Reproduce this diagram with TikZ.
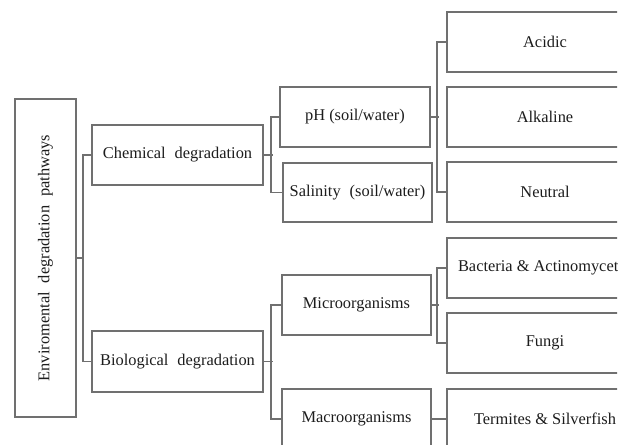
\documentclass[tikz,border=0pt]{standalone}
\usepackage{fontspec}
\setmainfont{Liberation Serif}
\definecolor{linegray}{RGB}{112,112,112}
\definecolor{txt}{RGB}{28,28,28}
\tikzset{
  box/.style={draw=linegray, line width=1.8pt, rectangle, inner sep=0pt,
    text=txt, font=\fontsize{16.4}{19}\selectfont, align=center},
  leaf/.style={box, minimum width=196pt, minimum height=60pt},
  mid/.style={box, minimum width=149pt, minimum height=60pt},
  lvl/.style={box, minimum width=171pt, minimum height=60pt},
  link/.style={draw=linegray, line width=1.8pt}
}
\newcommand{\wsp}{\hspace{0.55em}}
\begin{document}
\begin{tikzpicture}[x=1pt,y=-1pt]
\useasboundingbox (0,0) rectangle (631,444);
\begin{scope}
\clip (0,0) rectangle (617,444);
% root
\node[box, minimum width=61pt, minimum height=318pt] (root) at (45.5,258) {};
\node[text=txt, font=\fontsize{16.4}{19}\selectfont, rotate=90, inner sep=0pt] (roottxt) at (root.center) {Enviromental\wsp degradation\wsp pathways};
% level 1
\node[lvl] (chem) at (177.5,155) {Chemical\wsp degradation};
\node[lvl, minimum height=61pt] (bio) at (177.5,361.5) {Biological\wsp degradation};
% level 2
\node[mid, minimum width=150pt] (ph) at (355,117) {pH (soil/water)};
\node[mid, minimum height=59pt] (sal) at (357.5,192.5) {Salinity\wsp (soil/water)};
\node[mid] (micro) at (356.5,305) {Microorganisms};
\node[mid] (macro) at (356.5,419) {Macroorganisms};
% level 3
\node[leaf] (acid) at (545,42) {Acidic};
\node[leaf] (alk) at (545,117) {Alkaline};
\node[leaf] (neu) at (545,192) {Neutral};
\node[leaf] (bact) at (545,268) {Bacteria \& Actinomycetes};
\node[leaf] (fungi) at (545,343) {Fungi};
\node[leaf] (term) at (545,419) {Termites \& Silverfish};
% connectors
\draw[link] (root.east) -- ++(7.5,0);
\draw[link] (chem.west) -- ++(-8.5,0) |- (bio.west);
\draw[link] (chem.east) -- ++(9,0);
\draw[link] (ph.west) -- ++(-8,0) |- (sal.west);
\draw[link] (bio.east) -- ++(9,0);
\draw[link] (micro.west) -- ++(-10,0) |- (macro.west);
\draw[link] (ph.east) -- ++(8,0);
\draw[link] (acid.west) -- ++(-9,0) |- (neu.west);
\draw[link] (micro.east) -- ++(7.5,0);
\draw[link] (bact.west) -- ++(-9,0) |- (fungi.west);
\draw[link] (macro.east) -- (term.west);
\end{scope}
\end{tikzpicture}
\end{document}
